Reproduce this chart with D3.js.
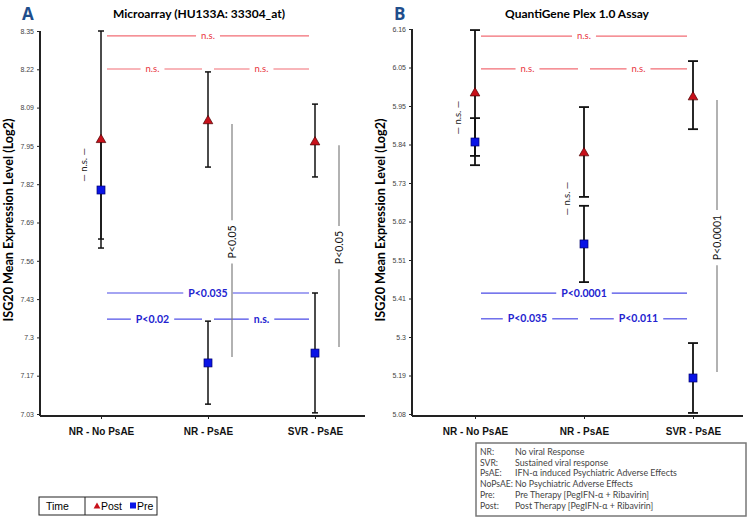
<!DOCTYPE html>
<html>
<head>
<meta charset="utf-8">
<script src="https://cdn.jsdelivr.net/npm/d3@7"></script>
<style>
  body { margin: 0; background: #fff; }
  svg { display: block; font-family: Lato, "Open Sans", sans-serif; }
</style>
</head>
<body>
<svg id="chart" width="750" height="522"></svg>
<script>
'use strict';

var categories = ['NR - No PsAE', 'NR - PsAE', 'SVR - PsAE'];

// panel A : microarray
var tickLabelsA = ['7.03','7.17','7.3','7.43','7.56','7.69','7.82','7.95','8.09','8.22','8.35'];
var postMeanA = [7.975, 8.040, 7.967],
    postLowA  = [7.602, 7.881, 7.847],
    postHighA = [8.350, 8.209, 8.098];
var preMeanA  = [7.802, 7.206, 7.240],
    preLowA   = [7.633, 7.064, 7.034],
    preHighA  = [7.970, 7.350, 7.447];

// panel B : quantigene
var tickLabelsB = ['5.08','5.19','5.3','5.41','5.51','5.62','5.73','5.84','5.95','6.05','6.16'];
var postMeanB = [5.980, 5.812, 5.969],
    postLowB  = [5.804, 5.689, 5.879],
    postHighB = [6.157, 5.941, 6.070];
var preMeanB  = [5.843, 5.557, 5.181],
    preLowB   = [5.778, 5.450, 5.083],
    preHighB  = [5.910, 5.664, 5.279];

// between group comparisons [from, to, level, label]
var postCompA = [[0,2,8.333,'n.s.'],[0,1,8.219,'n.s.'],[1,2,8.219,'n.s.']];
var preCompA  = [[0,2,7.447,'P<0.035'],[0,1,7.357,'P<0.02'],[1,2,7.357,'n.s.']];
var postCompB = [[0,2,6.140,'n.s.'],[0,1,6.048,'n.s.'],[1,2,6.048,'n.s.']];
var preCompB  = [[0,2,5.419,'P<0.0001'],[0,1,5.347,'P<0.035'],[1,2,5.347,'P<0.011']];
// pre vs post within group [category, label, drawn as a long line]
var withinA = [[0,'n.s.',false],[1,'P<0.05',true],[2,'P<0.05',true]];
var withinB = [[0,'n.s.',false],[1,'n.s.',false],[2,'P<0.0001',true]];

var legendRows = [['NR:','No viral Response'],['SVR:','Sustained viral response'],
  ['PsAE:','IFN-\u03b1 induced Psychiatric Adverse Effects'],['NoPsAE:','No Psychiatric Adverse Effects'],
  ['Pre:','Pre Therapy [PegIFN-\u03b1 + Ribavirin]'],['Post:','Post Therapy  [PegIFN-\u03b1 + Ribavirin]']];

var svg = d3.select('#chart');

// scale a text's font so it is about as wide as in the picture
var fitWidth = function(t, w){
  var fs = parseFloat(t.style('font-size'));
  var len = t.node().getComputedTextLength();
  t.style('font-size', (fs*w/len).toFixed(2)+'px');
};

var drawPanel = function(cfg){
  var g = svg.append('g');
  var y = d3.scaleLinear().domain(cfg.domain).range([cfg.yBottom, cfg.yTop]);
  var x = d3.scalePoint().domain(categories).range(cfg.xRange);
  var step = (cfg.domain[1]-cfg.domain[0])/(cfg.ticks.length-1);
  var tickVals = cfg.ticks.map((t,i)=>cfg.domain[0]+step*i);

  // letter + title
  g.append('text').attr('x',cfg.axisX-18).attr('y',20).text(cfg.letter)
    .style('font-size','17px').style('font-weight','bold').style('fill','#1f4e8c')
    .style('font-family','"Open Sans", sans-serif');
  var tt = g.append('text').attr('x',cfg.titleX).attr('y',18).text(cfg.title)
    .attr('text-anchor','middle').style('font-size','12px').style('font-weight','bold');
  fitWidth(tt, cfg.titleW);

  // y axis
  var ya = g.append('g').attr('transform','translate('+cfg.axisX+',0)')
    .call(d3.axisLeft(y).tickValues(tickVals).tickSize(3).tickSizeOuter(0)
      .tickFormat((d,i)=>cfg.ticks[i]));
  ya.select('.domain').remove();
  ya.selectAll('.tick line').attr('stroke','#222');
  ya.selectAll('.tick text').style('font-size','7px').style('fill','#444')
    .style('font-family','"Liberation Sans Narrow", "Liberation Sans", sans-serif');
  g.append('line').attr('x1',cfg.axisX).attr('x2',cfg.axisX)
    .attr('y1',cfg.yTop).attr('y2',cfg.yBottom+2).attr('stroke','#222').attr('stroke-width',2);

  // x axis
  var xa = g.append('g').attr('transform','translate(0,'+(cfg.yBottom+2)+')')
    .call(d3.axisBottom(x).tickSize(3).tickSizeOuter(0));
  xa.select('.domain').remove();
  xa.selectAll('.tick line').attr('stroke','#222');
  xa.selectAll('.tick text').attr('dy','1.3em').style('font-size','10px')
    .style('font-weight','bold').style('fill','#111');
  g.append('line').attr('x1',cfg.axisX).attr('x2',cfg.axisEnd)
    .attr('y1',cfg.yBottom+2).attr('y2',cfg.yBottom+2).attr('stroke','#222').attr('stroke-width',2);

  // y title
  var yt = g.append('text').attr('transform','translate('+(cfg.axisX-27)+',220) rotate(-90)')
    .attr('text-anchor','middle').text('ISG20  Mean Expression Level (Log2)')
    .style('font-size','11px').style('font-weight','bold');
  fitWidth(yt, 203);

  // comparison brackets with a gap around the label
  var bracket = function(list, color, lineColor, bold){
    list.forEach(function(c){
      var x0 = x(categories[c[0]])+6, x1 = x(categories[c[1]])-6, yy = y(c[2]);
      var xm = (x(categories[c[0]])+x(categories[c[1]]))/2;
      if(c[1]-c[0]===1 && c[0]===0) xm -= 2;
      var t = g.append('text').attr('x',xm).attr('y',yy).attr('dy','0.35em')
        .attr('text-anchor','middle').text(c[3]).style('fill',color)
        .style('font-size', bold?'10.5px':'9.5px').style('font-weight', bold?'bold':'normal');
      var w = t.node().getComputedTextLength()/2+5;
      g.append('line').attr('x1',x0).attr('x2',xm-w).attr('y1',yy).attr('y2',yy)
        .attr('stroke',lineColor).attr('stroke-width',1.2);
      g.append('line').attr('x1',xm+w).attr('x2',x1).attr('y1',yy).attr('y2',yy)
        .attr('stroke',lineColor).attr('stroke-width',1.2);
    });
  };
  bracket(cfg.postComp,'#e8323c','#f26d74',false);
  bracket(cfg.preComp,'#2323d0','#4a4ae6',true);

  // within group comparisons
  cfg.within.forEach(function(w){
    var i = w[0], cx = x(categories[i]);
    var ym = (y(cfg.postMean[i])+y(cfg.preMean[i]))/2;
    if(w[2]){
      var lx = cx+24, yt = y(cfg.postMean[i])+3, yb = y(cfg.preMean[i])-6;
      var t = g.append('text').attr('transform','translate('+lx+','+ym+') rotate(-90)')
        .attr('dy','0.35em').attr('text-anchor','middle').text(w[1])
        .style('font-size','10.5px').style('fill','#111');
      var h = t.node().getComputedTextLength()/2+5;
      g.append('line').attr('x1',lx).attr('x2',lx).attr('y1',yt).attr('y2',ym-h)
        .attr('stroke','#7f7f7f').attr('stroke-width',1.2);
      g.append('line').attr('x1',lx).attr('x2',lx).attr('y1',ym+h).attr('y2',yb)
        .attr('stroke','#7f7f7f').attr('stroke-width',1.2);
    } else {
      g.append('text').attr('transform','translate('+(cx-17)+','+ym+') rotate(-90)')
        .attr('dy','0.35em').attr('text-anchor','middle').text('\u2014 n.s. \u2014')
        .style('font-size','9.5px').style('fill','#222');
    }
  });

  // error bars
  var errBar = function(mean, lo, hi){
    categories.forEach(function(c,i){
      var cx = x(c);
      g.append('line').attr('x1',cx).attr('x2',cx).attr('y1',y(hi[i])).attr('y2',y(lo[i]))
        .attr('stroke','#111').attr('stroke-width',cfg.barW);
      [lo[i],hi[i]].forEach(function(v){
        g.append('line').attr('x1',cx-cfg.cap).attr('x2',cx+cfg.cap).attr('y1',y(v)).attr('y2',y(v))
          .attr('stroke','#111').attr('stroke-width',cfg.barW);
      });
    });
  };
  errBar(cfg.preMean, cfg.preLow, cfg.preHigh);
  errBar(cfg.postMean, cfg.postLow, cfg.postHigh);

  g.selectAll('rect.pre').data(cfg.preMean).enter().append('rect').attr('class','pre')
    .attr('x',(d,i)=>x(categories[i])-4).attr('y',d=>y(d)-4).attr('width',8).attr('height',8)
    .attr('fill','#0a14e6').attr('stroke','#00006e').attr('stroke-width',0.7);
  g.selectAll('path.post').data(cfg.postMean).enter().append('path').attr('class','post')
    .attr('d',d3.symbol(d3.symbolTriangle,40))
    .attr('transform',(d,i)=>'translate('+x(categories[i])+','+y(d)+')')
    .attr('fill','#c8101a').attr('stroke','#4a0000').attr('stroke-width',0.7);
};

drawPanel({letter:'A', title:'Microarray (HU133A: 33304_at)', titleX:199, titleW:172, ticks:tickLabelsA,
  domain:[7.03,8.35], yTop:31, yBottom:414, axisX:40, axisEnd:365, xRange:[101,315],
  postMean:postMeanA, postLow:postLowA, postHigh:postHighA,
  preMean:preMeanA, preLow:preLowA, preHigh:preHighA,
  postComp:postCompA, preComp:preCompA, within:withinA, cap:3, barW:1.5});

drawPanel({letter:'B', title:'QuantiGene Plex 1.0 Assay', titleX:577, titleW:144, ticks:tickLabelsB,
  domain:[5.08,6.16], yTop:29, yBottom:414, axisX:412, axisEnd:743, xRange:[475,693],
  postMean:postMeanB, postLow:postLowB, postHigh:postHighB,
  preMean:preMeanB, preLow:preLowB, preHigh:preHighB,
  postComp:postCompB, preComp:preCompB, within:withinB, cap:5, barW:1.8});

// time legend
var tl = svg.append('g').attr('transform','translate(39,497)')
  .style('font-family','"Liberation Sans", Arial, sans-serif');
tl.append('rect').attr('width',118).attr('height',18).attr('fill','#fff').attr('stroke','#222');
tl.append('line').attr('x1',46).attr('x2',46).attr('y1',0).attr('y2',18).attr('stroke','#222');
tl.append('text').attr('x',7).attr('y',13).text('Time').style('font-size','10.5px');
tl.append('path').attr('d',d3.symbol(d3.symbolTriangle,20)).attr('transform','translate(58,9.5)').attr('fill','#c8101a');
tl.append('text').attr('x',62).attr('y',13).text('Post').style('font-size','10.5px');
tl.append('rect').attr('x',91).attr('y',5.5).attr('width',6).attr('height',6).attr('fill','#0a14e6');
tl.append('text').attr('x',98).attr('y',13).text('Pre').style('font-size','10.5px');

// abbreviation legend
var al = svg.append('g').attr('transform','translate(476,443)');
al.append('rect').attr('width',270).attr('height',73).attr('fill','#fff')
  .attr('stroke','#777').attr('stroke-width',1.5);
var rows = al.selectAll('g').data(legendRows).enter().append('g')
  .attr('transform',(d,i)=>'translate(0,'+(12+i*10.7)+')');
var abbr = rows.append('text').attr('x',4).text(d=>d[0]).style('font-size','9px').style('fill','#444');
var desc = rows.append('text').attr('x',39).text(d=>d[1]).style('font-size','7.5px').style('fill','#444');
// widest row is about 162px wide in the picture
var longest = d3.max(desc.nodes(), n=>n.getComputedTextLength());
desc.style('font-size', (7.5*162/longest).toFixed(2)+'px');
// keep the abbreviations clear of the descriptions
var widest = d3.max(abbr.nodes(), n=>n.getComputedTextLength());
if(widest > 33) abbr.style('font-size', (9*33/widest).toFixed(2)+'px');
</script>
</body>
</html>
